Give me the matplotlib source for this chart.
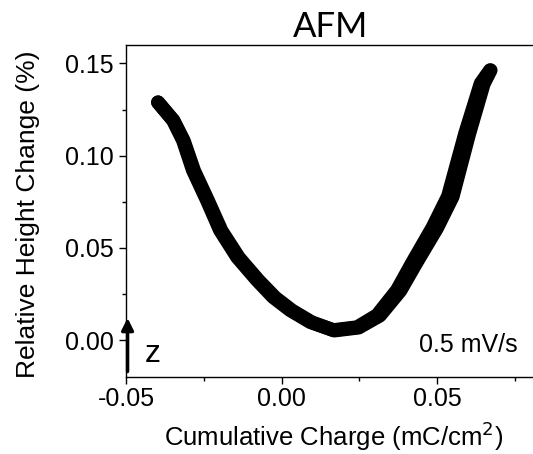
import matplotlib.pyplot as plt
from matplotlib.ticker import MultipleLocator

# the loop drawn as two close branches
charge_fwd = [-0.0397, -0.0349, -0.0317, -0.0285, -0.0240, -0.0198, -0.0143, -0.0079, -0.0027, 0.0027, 0.0092,
              0.0166, 0.0243, 0.0307, 0.0371, 0.0420, 0.0485, 0.0535, 0.0590, 0.0640, 0.0670]
height_fwd = [0.1289, 0.1192, 0.1083, 0.0921, 0.0758, 0.0596, 0.0450, 0.0325, 0.0233, 0.0163, 0.0098,
              0.0054, 0.0070, 0.0135, 0.0271, 0.0420, 0.0610, 0.0780, 0.1120, 0.1392, 0.1463]
charge_bwd = [-0.0397, -0.0347, -0.0314, -0.0281, -0.0236, -0.0193, -0.0137, -0.0073, -0.0020, 0.0034, 0.0098,
              0.0170, 0.0248, 0.0316, 0.0382, 0.0433, 0.0500, 0.0550, 0.0603, 0.0650, 0.0672]
height_bwd = [0.1289, 0.1190, 0.1080, 0.0918, 0.0755, 0.0593, 0.0447, 0.0322, 0.0230, 0.0160, 0.0096,
              0.0052, 0.0068, 0.0133, 0.0268, 0.0418, 0.0608, 0.0778, 0.1118, 0.1390, 0.1463]

xticks = [-0.05, 0.0, 0.05]
xticklabels = ['-0.05', '0.00', '0.05']
yticks = [0.0, 0.05, 0.10, 0.15]
yticklabels = ['0.00', '0.05', '0.10', '0.15']

plt.rcParams['font.family'] = ['Liberation Sans', 'DejaVu Sans']

fig = plt.figure(figsize=(5.33, 4.54), dpi=100)
ax = fig.add_axes([0.2364, 0.1696, 0.788, 0.7313])

for cx, hy in [(charge_fwd, height_fwd), (charge_bwd, height_bwd)]:
    ax.plot(cx, hy, color='black', lw=10, solid_capstyle='round', solid_joinstyle='round')

ax.set_xlim(-0.05, 0.085)
ax.set_ylim(-0.02, 0.16)
ax.xaxis.set_minor_locator(MultipleLocator(0.025))
ax.yaxis.set_minor_locator(MultipleLocator(0.025))
ax.set_xticks(xticks)
ax.set_xticklabels(xticklabels)
ax.set_yticks(yticks)
ax.set_yticklabels(yticklabels)
ax.tick_params(which='major', direction='out', length=5, width=1, labelsize=18)
ax.tick_params(which='minor', direction='out', length=3, width=1)
ax.tick_params(axis='x', which='major', pad=2)
ax.tick_params(axis='y', which='major', pad=4)
ax.spines['right'].set_visible(False)
for s in ax.spines.values():
    s.set_linewidth(1)

fig.text(334/533, 1 - 436/454, 'Cumulative Charge (mC/cm$^2$)', fontsize=18.5, ha='center', va='center')
fig.text(28/533, 1 - 214/454, 'Relative Height Change (%)', fontsize=19, ha='center', va='center', rotation=90)
fig.text(331/533, 1 - 27/454, 'AFM', fontsize=25, ha='center', va='center',
         family=['Lato', 'DejaVu Sans'])

ax.annotate('', xy=(-0.0495, 0.0135), xytext=(-0.0495, -0.0185),
            arrowprops=dict(arrowstyle='-|>,head_width=0.35,head_length=0.7', color='black', lw=2.5),
            annotation_clip=False)
ax.text(-0.0413, -0.0076, 'z', fontsize=23, ha='center', va='center')
ax.text(0.0760, -0.0027, '0.5 mV/s', fontsize=18, ha='right', va='center')

fig.savefig('out.png', dpi=100)
